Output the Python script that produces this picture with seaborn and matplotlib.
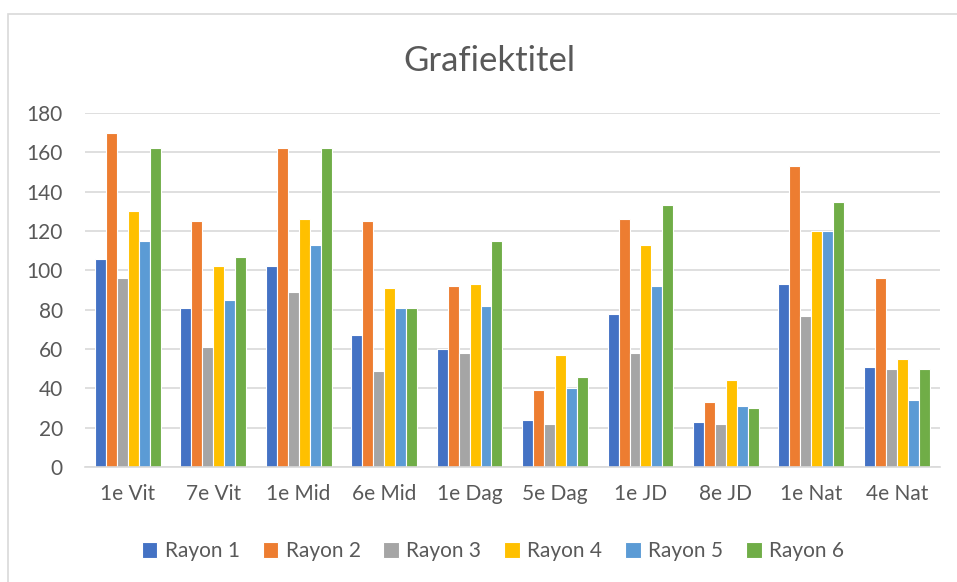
import matplotlib
matplotlib.use("Agg")
import matplotlib.pyplot as plt
from matplotlib.patches import Rectangle
import pandas as pd
import seaborn as sns

# Data
categories = ['1e Vit', '7e Vit', '1e Mid', '6e Mid', '1e Dag',
              '5e Dag', '1e JD', '8e JD', '1e Nat', '4e Nat']
rayon_1 = [106, 81, 102, 67, 60, 24, 78, 23, 93, 51]
rayon_2 = [170, 125, 162, 125, 92, 39, 126, 33, 153, 96]
rayon_3 = [96, 61, 89, 49, 58, 22, 58, 22, 77, 50]
rayon_4 = [130, 102, 126, 91, 93, 57, 113, 44, 120, 55]
rayon_5 = [115, 85, 113, 81, 82, 40, 92, 31, 120, 34]
rayon_6 = [162, 107, 162, 81, 115, 46, 133, 30, 135, 50]
series_names = ['Rayon 1', 'Rayon 2', 'Rayon 3', 'Rayon 4', 'Rayon 5', 'Rayon 6']
colors = ['#4472C4', '#ED7D31', '#A5A5A5', '#FFC000', '#5B9BD5', '#70AD47']

rows = []
for name, vals in zip(series_names,
                      [rayon_1, rayon_2, rayon_3, rayon_4, rayon_5, rayon_6]):
    for cat, v in zip(categories, vals):
        rows.append({'category': cat, 'rayon': name, 'value': v})
df = pd.DataFrame(rows)

sns.set_style("white")
plt.rcParams['font.family'] = ['Lato', 'DejaVu Sans']

fig = plt.figure(figsize=(9.57, 5.82), dpi=100)
ax = fig.add_axes([0.0888, 0.1976, 0.893, 0.6082])

sns.barplot(data=df, x='category', y='value', hue='rayon', order=categories,
            hue_order=series_names, palette=colors, width=0.77,
            edgecolor='white', linewidth=0.8, saturation=1, ax=ax)

ax.set_ylim(0, 180)
ax.set_yticks(range(0, 181, 20))
ax.set_xlim(-0.5, len(categories) - 0.5)
ax.yaxis.grid(True, color='#D9D9D9', linewidth=1.2)
ax.set_axisbelow(True)
for s in ['top', 'right', 'left']:
    ax.spines[s].set_visible(False)
ax.spines['bottom'].set_color('#D9D9D9')
ax.spines['bottom'].set_linewidth(1.2)
ax.tick_params(axis='both', length=0, labelsize=15, labelcolor='#595959')
ax.tick_params(axis='y', pad=16)
ax.tick_params(axis='x', pad=12)
ax.set_xlabel('')
ax.set_ylabel('')

fig.text(0.511, 0.895, 'Grafiektitel', ha='center', va='center',
         fontsize=25, color='#595959')

handles, labels = ax.get_legend_handles_labels()
ax.legend_.remove()
fig.legend(handles, labels, loc='center', bbox_to_anchor=(0.515, 0.053),
           ncol=6, frameon=False, fontsize=15, labelcolor='#595959',
           handlelength=0.75, handleheight=0.75, handletextpad=0.35,
           columnspacing=1.1)

# chart area border
fig.patches.append(Rectangle((8 / 957, -0.1), 1.2, 1 - 14 / 582 + 0.1,
                             transform=fig.transFigure, fill=False,
                             edgecolor='#D9D9D9', linewidth=1.2))

fig.savefig('out.png', dpi=100)
